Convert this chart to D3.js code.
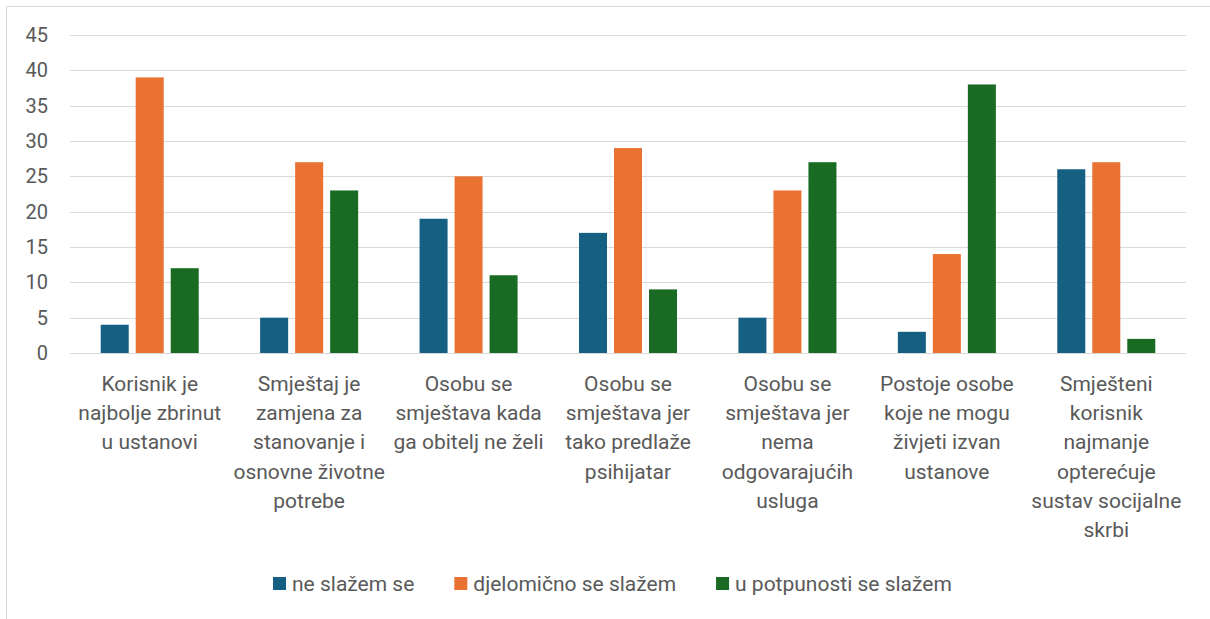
<!DOCTYPE html>
<html>
<head>
<meta charset="utf-8">
<script src="https://cdn.jsdelivr.net/npm/d3@7"></script>
<style>
  body { margin: 0; background: #fff; }
  text { font-family: Roboto, "Noto Sans", sans-serif; fill: #595959; }
</style>
</head>
<body>
<div class="viz"></div>
<script>
// chart data
const categories = [
  "Korisnik je\nnajbolje zbrinut\nu ustanovi",
  "Smještaj je\nzamjena za\nstanovanje i\nosnovne životne\npotrebe",
  "Osobu se\nsmještava kada\nga obitelj ne želi",
  "Osobu se\nsmještava jer\ntako predlaže\npsihijatar",
  "Osobu se\nsmještava jer\nnema\nodgovarajućih\nusluga",
  "Postoje osobe\nkoje ne mogu\nživjeti izvan\nustanove",
  "Smješteni\nkorisnik\nnajmanje\nopterećuje\nsustav socijalne\nskrbi"
];
const seriesNames = ["ne slažem se", "djelomično se slažem", "u potpunosti se slažem"];
const neSlazem = [4, 5, 19, 17, 5, 3, 26];
const djelomicno = [39, 27, 25, 29, 23, 14, 27];
const uPotpunosti = [12, 23, 11, 9, 27, 38, 2];
const yTicks = [0, 5, 10, 15, 20, 25, 30, 35, 40, 45];

const colors = ["#156082", "#E97132", "#196B24"];
const values = [neSlazem, djelomicno, uPotpunosti];

const width = 1210, height = 619;
const plot = { left: 70, right: 1186, top: 35, bottom: 353 };

var svg = d3.select(".viz")
  .append("svg")
  .attr("width", width)
  .attr("height", height);

// chart frame
svg.append("rect")
  .attr("x", 6.5).attr("y", 6.5)
  .attr("width", 1220).attr("height", 640)
  .attr("fill", "none")
  .attr("stroke", "#d9d9d9");

var x0 = d3.scaleBand()
  .domain(d3.range(categories.length))
  .range([plot.left, plot.right]);

var x1 = d3.scaleBand()
  .domain(d3.range(seriesNames.length))
  .range([0, x0.bandwidth()])
  .paddingInner(0.2)
  .paddingOuter(0.877);

var y = d3.scaleLinear()
  .domain([0, 45])
  .range([plot.bottom, plot.top]);

// gridlines
svg.append("g")
  .selectAll("line")
  .data(yTicks)
  .enter()
  .append("line")
  .attr("x1", plot.left).attr("x2", plot.right)
  .attr("y1", (d) => Math.round(y(d)) + 0.5)
  .attr("y2", (d) => Math.round(y(d)) + 0.5)
  .attr("stroke", "#d9d9d9")
  .attr("stroke-width", 1);

// y axis labels
var yaxis = d3.axisLeft(y)
  .tickValues(yTicks)
  .tickSize(0)
  .tickPadding(0);

var yg = svg.append("g")
  .attr("transform", "translate(48,0)")
  .call(yaxis);
yg.select(".domain").remove();
yg.selectAll("text")
  .style("font-size", "20px")
  .attr("fill", "#595959")
  .style("font-family", "Roboto, 'Noto Sans', sans-serif");

// bars
seriesNames.forEach(function (name, s) {
  svg.append("g")
    .selectAll("rect")
    .data(values[s])
    .enter()
    .append("rect")
    .attr("x", (d, i) => x0(i) + x1(s))
    .attr("y", (d) => y(d))
    .attr("width", x1.bandwidth())
    .attr("height", (d) => y(0) - y(d))
    .attr("fill", colors[s]);
});

// category labels
var labels = svg.append("g")
  .selectAll("text")
  .data(categories)
  .enter()
  .append("text")
  .attr("text-anchor", "middle")
  .style("font-size", "21px")
  .attr("transform", (d, i) => "translate(" + (x0(i) + x0.bandwidth() / 2) + ",391)");

labels.selectAll("tspan")
  .data((d) => d.split("\n"))
  .enter()
  .append("tspan")
  .attr("x", 0)
  .attr("y", (d, i) => i * 29.2)
  .text((d) => d);

// legend
var legend = svg.append("g").attr("id", "legend");
var lx = 273;
seriesNames.forEach(function (name, s) {
  legend.append("rect")
    .attr("x", lx).attr("y", 577)
    .attr("width", 13).attr("height", 13)
    .attr("fill", colors[s]);
  var t = legend.append("text")
    .attr("x", lx + 19).attr("y", 591)
    .style("font-size", "21px")
    .text(name);
  var w = t.node().getComputedTextLength();
  lx += 19 + w + 40;
});
</script>
</body>
</html>
